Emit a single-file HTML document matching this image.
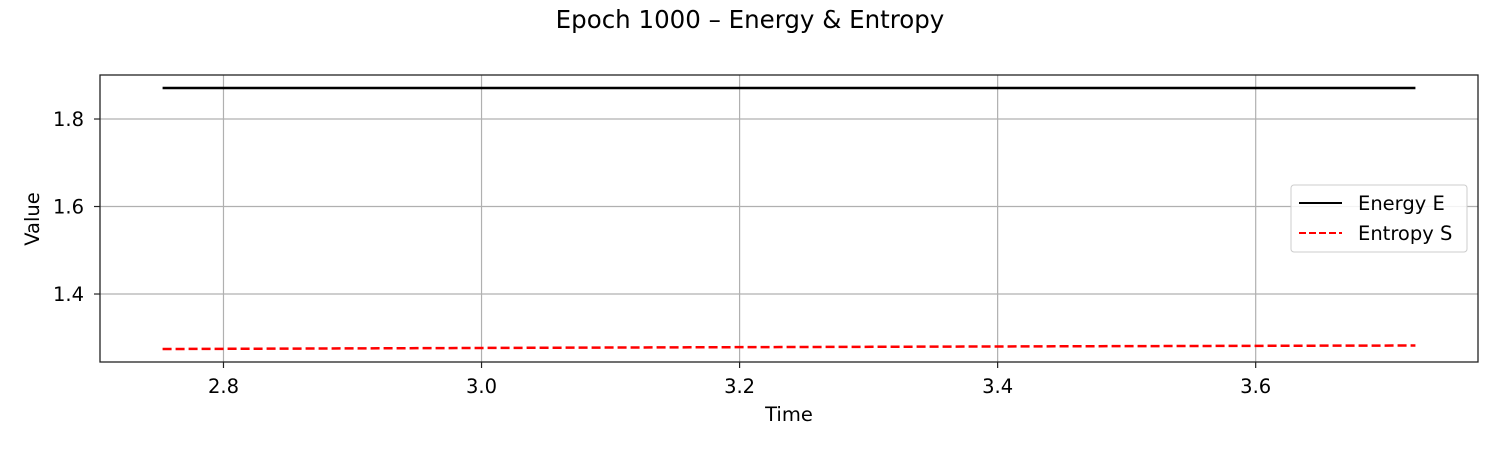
<!DOCTYPE html>
<html><head><meta charset="utf-8"><style>
html,body{margin:0;padding:0;background:#fff}
svg{display:block;font-family:"DejaVu Sans","Liberation Sans",sans-serif}
</style></head><body>
<svg id="chart" width="1500" height="450">
<text x="750" y="28" text-anchor="middle" font-size="24.5">Epoch 1000 – Energy &amp; Entropy</text>
<g id="grid"></g>
<g id="ticks"></g>
<g id="series"></g>
<rect x="100" y="75" width="1378" height="287" fill="none" stroke="#222" stroke-width="1.3"/>
<text x="789" y="421" text-anchor="middle" font-size="19.5">Time</text>
<text transform="translate(39,219) rotate(-90)" text-anchor="middle" font-size="19.5">Value</text>
<g>
<rect x="1291" y="185" width="176" height="67" rx="3" fill="#fff" fill-opacity="0.85" stroke="#ccc"/>
<line x1="1299" y1="203" x2="1342" y2="203" stroke="#000" stroke-width="2"/>
<text x="1358" y="210" font-size="19.5">Energy E</text>
<line x1="1299" y1="233" x2="1342" y2="233" stroke="#f00" stroke-width="2" stroke-dasharray="7,3"/>
<text x="1358" y="240" font-size="19.5">Entropy S</text>
</g>
</svg>
<script>
const times = [2.7528, 2.85, 2.95, 3.05, 3.15, 3.25, 3.35, 3.45, 3.55, 3.65, 3.7238];
const energy = [1.871, 1.871, 1.871, 1.871, 1.871, 1.871, 1.871, 1.871, 1.871, 1.871, 1.871];
const entropy = [1.2743, 1.2752, 1.2762, 1.2772, 1.2781, 1.2789, 1.2797, 1.2805, 1.2812, 1.2819, 1.2823];
const xTicks = [2.8, 3.0, 3.2, 3.4, 3.6];
const yTicks = [1.4, 1.6, 1.8];

const L=100,R=1478,T=75,B=362;
const X0=2.7043,X1=3.7723,Y0=1.2446,Y1=1.9006;
const sx=v=>L+(v-X0)/(X1-X0)*(R-L);
const sy=v=>B-(v-Y0)/(Y1-Y0)*(B-T);
const NS='http://www.w3.org/2000/svg';
function mk(tag,attrs,parent){const e=document.createElementNS(NS,tag);for(const k in attrs)e.setAttribute(k,attrs[k]);parent.appendChild(e);return e;}
const grid=document.getElementById('grid'),ticks=document.getElementById('ticks'),series=document.getElementById('series');
xTicks.forEach(t=>{
  const x=sx(t);
  const g=mk('line',{x1:x,x2:x,y1:T,y2:B,stroke:'#b0b0b0','stroke-width':1.2},grid);
  
  
  const tk=mk('line',{x1:x,x2:x,y1:B,y2:B+6,stroke:'#222','stroke-width':1.2},ticks);
  
  
  const tx=mk('text',{x:x,y:393,'text-anchor':'middle','font-size':'19.5'},ticks);
  tx.textContent=t.toFixed(1);
  
  
});
yTicks.forEach(t=>{
  const y=sy(t);
  const g=mk('line',{x1:L,x2:R,y1:y,y2:y,stroke:'#b0b0b0','stroke-width':1.2},grid);
  
  
  const tk=mk('line',{x1:L-6,x2:L,y1:y,y2:y,stroke:'#222','stroke-width':1.2},ticks);
  
  
  const tx=mk('text',{x:L-16,y:y+7,'text-anchor':'end','font-size':'19.5'},ticks);
  tx.textContent=t.toFixed(1);
  
  
});
const pts=a=>times.map((t,i)=>sx(t).toFixed(2)+','+sy(a[i]).toFixed(2)).join(' ');
const e=mk('polyline',{points:pts(energy),fill:'none',stroke:'#000','stroke-width':2.5},series);


const s=mk('polyline',{points:pts(entropy),fill:'none',stroke:'#f00','stroke-width':2.5,'stroke-dasharray':'9,4'},series);


</script>
</body></html>
